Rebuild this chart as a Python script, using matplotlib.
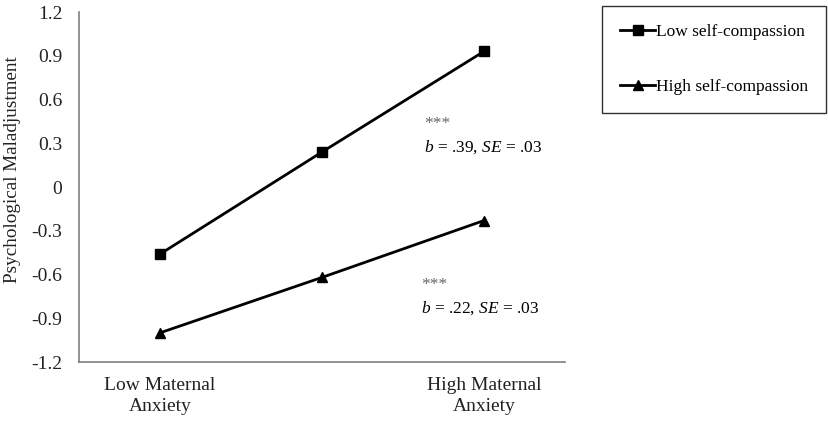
import matplotlib.pyplot as plt

plt.rcParams['font.family'] = ['Liberation Serif', 'DejaVu Serif']
plt.rcParams['mathtext.fontset'] = 'custom'
plt.rcParams['mathtext.rm'] = 'Liberation Serif'
plt.rcParams['mathtext.it'] = 'Liberation Serif:italic'

# data
conditions = ["Low Maternal\nAnxiety", "", "High Maternal\nAnxiety"]
low_sc = [-0.46, 0.24, 0.93]
high_sc = [-1.00, -0.62, -0.23]
y_ticks = [-1.2, -0.9, -0.6, -0.3, 0, 0.3, 0.6, 0.9, 1.2]
y_tick_labels = ["-1.2", "-0.9", "-0.6", "-0.3", "0", "0.3", "0.6", "0.9", "1.2"]

fig = plt.figure(figsize=(8.29, 4.23), dpi=100)
ax = fig.add_axes([0.0953, 0.1442, 0.5862, 0.8274])

x = range(len(conditions))
ax.plot(x, low_sc, color='black', lw=2.0, marker='s', markersize=7.5,
        label='Low self-compassion')
ax.plot(x, high_sc, color='black', lw=2.0, marker='^', markersize=7.5,
        label='High self-compassion')

ax.set_xlim(-0.5, 2.5)
ax.set_ylim(-1.2, 1.2)
ax.set_yticks(y_ticks)
ax.set_yticklabels(y_tick_labels)
ax.set_xticks(list(x))
ax.set_xticklabels(conditions, linespacing=1.25)
ax.tick_params(length=0, labelsize=14, colors='#222222')
ax.tick_params(axis='y', pad=12)
ax.tick_params(axis='x', pad=11)

for side in ['top', 'right']:
    ax.spines[side].set_visible(False)
for side in ['left', 'bottom']:
    ax.spines[side].set_color('#7f7f7f')
    ax.spines[side].set_linewidth(1.2)

ax.set_ylabel('Psychological Maladjustment', fontsize=13.8, color='#222222')
ax.yaxis.set_label_coords(-0.12, 0.549)

# significance notes
ax.text(1.63, 0.43, '***', fontsize=12.5, color='#666666', va='center')
ax.text(1.63, 0.27, r'$b$ = .39, $SE$ = .03', fontsize=12.5, va='center')
ax.text(1.61, -0.67, '***', fontsize=12.5, color='#666666', va='center')
ax.text(1.61, -0.83, r'$b$ = .22, $SE$ = .03', fontsize=12.5, va='center')

fig.legend(loc='upper left', bbox_to_anchor=(602 / 829, 1 - 6 / 423),
           frameon=True, fancybox=False, edgecolor='black', fontsize=12.5,
           handlelength=2.0, handletextpad=0.05, labelspacing=2.2,
           borderpad=1.05, borderaxespad=0.0, markerscale=0.9)
leg = fig.legends[0]
leg.get_frame().set_linewidth(1.0)

fig.savefig('out.png', dpi=100)
